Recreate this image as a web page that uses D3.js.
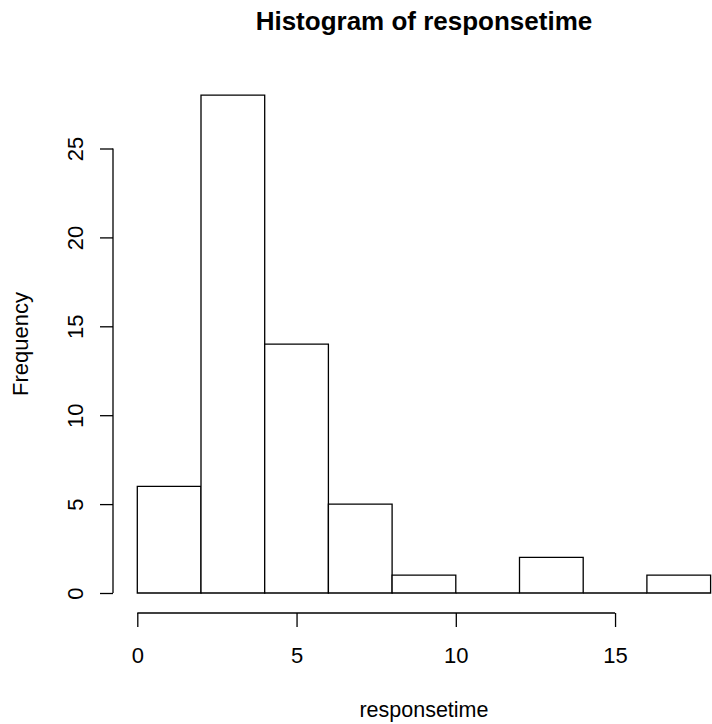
<!DOCTYPE html>
<html>
<head>
<meta charset="utf-8">
<script src="https://cdn.jsdelivr.net/npm/d3@7"></script>
<style>
  html, body { margin: 0; padding: 0; background: #fff; }
  svg { display: block; }
  text { font-family: "Liberation Sans", Arial, sans-serif; fill: #000; }
</style>
</head>
<body>
<svg id="chart" width="712" height="724"></svg>
<script>
// Histogram bins (break points) and counts per bin
const binEdges = [0, 2, 4, 6, 8, 10, 12, 14, 16, 18];
const counts = [6, 28, 14, 5, 1, 0, 2, 0, 1];
const xTicks = [0, 5, 10, 15];
const yTicks = [0, 5, 10, 15, 20, 25];
const titleText = "Histogram of responsetime";
const xLabel = "responsetime";
const yLabel = "Frequency";

const svg = d3.select("#chart");
const FONT = "'Liberation Sans', Arial, sans-serif";

const x = d3.scaleLinear().domain([0, 18]).range([137.3, 710.6]);
const y = d3.scaleLinear().domain([0, 25]).range([593, 148.5]);

const bins = counts.map((c, i) => ({ x0: binEdges[i], x1: binEdges[i + 1], count: c }));

// bars as closed outlines, so empty bins still show along the baseline
svg.append("g")
  .selectAll("path")
  .data(bins)
  .join("path")
  .attr("d", d => {
    const p = d3.path();
    p.moveTo(x(d.x0), y(0));
    p.lineTo(x(d.x0), y(d.count));
    p.lineTo(x(d.x1), y(d.count));
    p.lineTo(x(d.x1), y(0));
    p.closePath();
    return p.toString();
  })
  .attr("fill", "#fff")
  .attr("stroke", "#000")
  .attr("stroke-width", 1.3);

// x axis (line spans only first to last tick)
const xAxisG = svg.append("g")
  .attr("transform", "translate(0,613)")
  .call(d3.axisBottom(x).tickValues(xTicks).tickSize(14).tickSizeOuter(0).tickFormat(d3.format("d")));
xAxisG.select(".domain").remove();
xAxisG.append("line")
  .attr("x1", x(xTicks[0])).attr("x2", x(xTicks[xTicks.length - 1]))
  .attr("stroke", "#000").attr("stroke-width", 1.3);
xAxisG.selectAll(".tick line").attr("stroke", "#000").attr("stroke-width", 1.3);
xAxisG.selectAll(".tick text")
  .attr("y", 50).attr("dy", 0)
  .style("font-size", "22px")
  .style("font-family", FONT)
  .attr("fill", "#000");

// y axis
const yAxisG = svg.append("g")
  .attr("transform", "translate(113,0)")
  .call(d3.axisLeft(y).tickValues(yTicks).tickSize(13).tickSizeOuter(0).tickFormat(d3.format("d")));
yAxisG.select(".domain").remove();
yAxisG.append("line")
  .attr("y1", y(yTicks[0])).attr("y2", y(yTicks[yTicks.length - 1]))
  .attr("stroke", "#000").attr("stroke-width", 1.3);
yAxisG.selectAll(".tick line").attr("stroke", "#000").attr("stroke-width", 1.3);
yAxisG.selectAll(".tick text")
  .attr("x", 0).attr("dy", 0)
  .attr("text-anchor", "middle")
  .attr("transform", "translate(-30,0) rotate(-90)")
  .style("font-size", "22px")
  .style("font-family", FONT)
  .attr("fill", "#000");

// title
svg.append("text")
  .attr("x", x(9)).attr("y", 30)
  .attr("text-anchor", "middle")
  .style("font-size", "26px")
  .style("font-weight", "bold")
  .text(titleText);

// axis titles
svg.append("text")
  .attr("x", x(9)).attr("y", 717)
  .attr("text-anchor", "middle")
  .style("font-size", "21.5px")
  .text(xLabel);

svg.append("text")
  .attr("transform", `translate(28,${y(14)}) rotate(-90)`)
  .attr("text-anchor", "middle")
  .style("font-size", "22px")
  .text(yLabel);
</script>
</body>
</html>
